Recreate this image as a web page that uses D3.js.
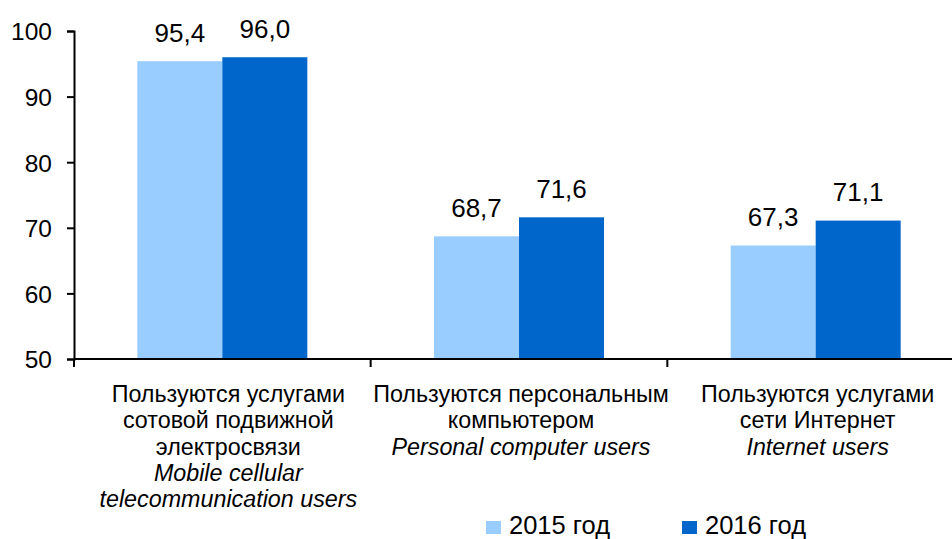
<!DOCTYPE html>
<html><head><meta charset="utf-8">
<script src="https://cdn.jsdelivr.net/npm/d3@7"></script>
<style>body{margin:0;background:#fff}svg{display:block;font-family:"Liberation Sans",Arial,sans-serif}</style>
</head><body>
<svg id="c" width="952" height="539"></svg>
<script>
const categories = ["mobile","pc","internet"];
const categoryLabelsRu = [
  ["Пользуются услугами","сотовой подвижной","электросвязи"],
  ["Пользуются персональным","компьютером"],
  ["Пользуются услугами","сети Интернет"]
];
const categoryLabelsEn = [
  ["Mobile cellular","telecommunication users"],
  ["Personal computer users"],
  ["Internet users"]
];
const seriesNames = ["2015 год","2016 год"];
const values2015 = [95.4, 68.7, 67.3];
const values2016 = [96.0, 71.6, 71.1];
const yTicks = [50,60,70,80,90,100];
const colors = ["#99CCFF","#0066CC"];

const svg = d3.select("#c");
const x0 = d3.scaleBand().domain(categories).range([74, 964]).paddingInner(0).paddingOuter(0);
const y = d3.scaleLinear().domain([50,100]).range([359,31]);
const x1 = d3.scaleBand().domain([0,1]).range([0,170]);
const groupOff = (x0.bandwidth()-170)/2;

const data = categories.map((c,i)=>({c, v:[values2015[i], values2016[i]]}));
const g = svg.append("g");
data.forEach(d=>{
  d.v.forEach((v,s)=>{
    const bx = x0(d.c)+groupOff+x1(s);
    g.append("rect").attr("x",bx).attr("y",y(v)).attr("width",x1.bandwidth()).attr("height",y(50)-y(v)).attr("fill",colors[s]);
    g.append("text").attr("x",bx+x1.bandwidth()/2).attr("y",y(v)-19.5).attr("text-anchor","middle")
      .attr("font-size",26).attr("fill","#000").text(v.toFixed(1).replace(".",","));
  });
});

// y axis
const ya = svg.append("g").attr("transform","translate(74,0)").call(d3.axisLeft(y).tickValues(yTicks).tickSize(7).tickPadding(15));
ya.select(".domain").attr("stroke","#000").attr("stroke-width",2);
ya.selectAll(".tick line").attr("stroke","#000").attr("stroke-width",2);
ya.selectAll(".tick text").attr("font-size",24.5).attr("font-family","Liberation Sans, Arial, sans-serif").attr("fill","#000").attr("dy","0.36em");

// x axis
svg.append("line").attr("x1",74).attr("x2",952).attr("y1",359).attr("y2",359).attr("stroke","#000").attr("stroke-width",2);
categories.forEach(c=>{
  const tx = x0(c);
  svg.append("line").attr("x1",tx).attr("x2",tx).attr("y1",359).attr("y2",367).attr("stroke","#000").attr("stroke-width",2);
});

// category labels
const labelDx = [6, 2, 2];
data.forEach((d,i)=>{
  const cx = x0(d.c)+x0.bandwidth()/2 + labelDx[i];
  const lines = categoryLabelsRu[i].map(t=>({t,it:false})).concat(categoryLabelsEn[i].map(t=>({t,it:true})));
  lines.forEach((l,k)=>{
    svg.append("text").attr("x",cx).attr("y",402+k*26.3).attr("text-anchor","middle")
      .attr("font-size",23.3).attr("font-style",l.it?"italic":"normal").attr("fill","#000").text(l.t);
  });
});

// legend
const legX = [486, 682];
seriesNames.forEach((n,s)=>{
  svg.append("rect").attr("x",legX[s]).attr("y",521).attr("width",15).attr("height",13).attr("fill",colors[s]);
  svg.append("text").attr("x",legX[s]+23).attr("y",534).attr("font-size",25.5).attr("fill","#000").text(n);
});
</script>
</body></html>
